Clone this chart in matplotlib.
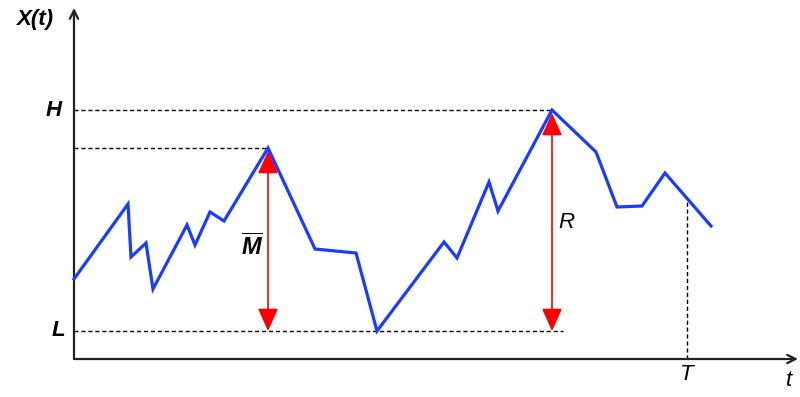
import numpy as np
import matplotlib
matplotlib.use('Agg')
import matplotlib.pyplot as plt

# Trajetória do processo X(t)
tempo = [0.0, 5.4, 5.7, 7.2, 7.9, 11.3, 12.1, 13.6, 15.0, 19.4, 24.1, 28.2, 30.3,
         37.0, 38.3, 41.5, 42.4, 47.8, 52.2, 54.3, 56.8, 59.1, 63.7]
valores = [8.0, 15.5, 10.2, 11.6, 7.0, 13.4, 11.4, 14.7, 13.8, 21.1, 11.0, 10.6, 2.8,
           11.7, 10.1, 17.7, 14.8, 24.9, 20.7, 15.2, 15.3, 18.6, 13.3]
T = 61.3
idx_m = 9  # pico usado para M

tempo = np.array(tempo)
valores = np.array(valores)
H = valores.max()
L = valores.min()
t_H = tempo[valores.argmax()]
M = valores[idx_m]
t_M = tempo[idx_m]
x_T = np.interp(T, tempo, valores)

plt.rcParams['mathtext.fontset'] = 'custom'
plt.rcParams['mathtext.it'] = 'Liberation Sans:italic:bold'
plt.rcParams['mathtext.rm'] = 'Liberation Sans:bold'

fig = plt.figure(figsize=(8, 3.97), dpi=100)
ax = fig.add_axes([0, 0, 1, 1])
ax.set_xlim(-7.4, 72.6)
ax.set_ylim(-3.8, 35.9)
ax.axis('off')

# Eixos com setas
seta = dict(arrowstyle='->,head_length=0.6,head_width=0.3', color='#222222', lw=1.6,
            shrinkA=0, shrinkB=0)
ax.annotate('', xy=(0, 35.1), xytext=(0, 0), arrowprops=seta)
ax.annotate('', xy=(72.4, 0), xytext=(0, 0), arrowprops=seta)

# Linhas tracejadas de referência
tracejado = dict(color='black', lw=1.0, ls=(0, (3, 2)))
ax.plot([0, t_H], [H, H], **tracejado)
ax.plot([0, t_M], [M, M], **tracejado)
ax.plot([0, t_H + 1.1], [L, L], **tracejado)
ax.plot([T, T], [0, x_T], **tracejado)

# Setas vermelhas de M e R
seta_v = dict(arrowstyle='<|-|>,head_length=1.0,head_width=0.45', color='red', lw=1.2,
              shrinkA=0, shrinkB=0, mutation_scale=14)
ax.annotate('', xy=(t_M, L), xytext=(t_M, M - 0.3), arrowprops=seta_v)
ax.annotate('', xy=(t_H, L), xytext=(t_H, H - 0.3), arrowprops=seta_v)

# Trajetória
ax.plot(tempo, valores, color='#1a3cff', lw=2.3, solid_joinstyle='miter', zorder=5)

fonte = 'Liberation Sans'
ax.text(-3.9, 33.9, 'X(t)', fontsize=16, fontweight='bold', style='italic', family=fonte,
        ha='center', va='center')
ax.text(-2.0, H, 'H', fontsize=16, fontweight='bold', style='italic', family=fonte,
        ha='center', va='center')
ax.text(-1.6, L, 'L', fontsize=16, fontweight='bold', style='italic', family=fonte,
        ha='center', va='center')
ax.text(t_M - 1.6, 11.2, r'$\overline{M}$', fontsize=17, ha='center', va='center')
ax.text(t_H + 1.4, 13.6, 'R', fontsize=16, style='italic', family=fonte,
        ha='center', va='center')
ax.text(T, -1.6, 'T', fontsize=16, style='italic', family=fonte, ha='center', va='center')
ax.text(71.5, -2.1, 't', fontsize=16, style='italic', family=fonte, ha='center', va='center')

fig.savefig('out.png', dpi=100)
